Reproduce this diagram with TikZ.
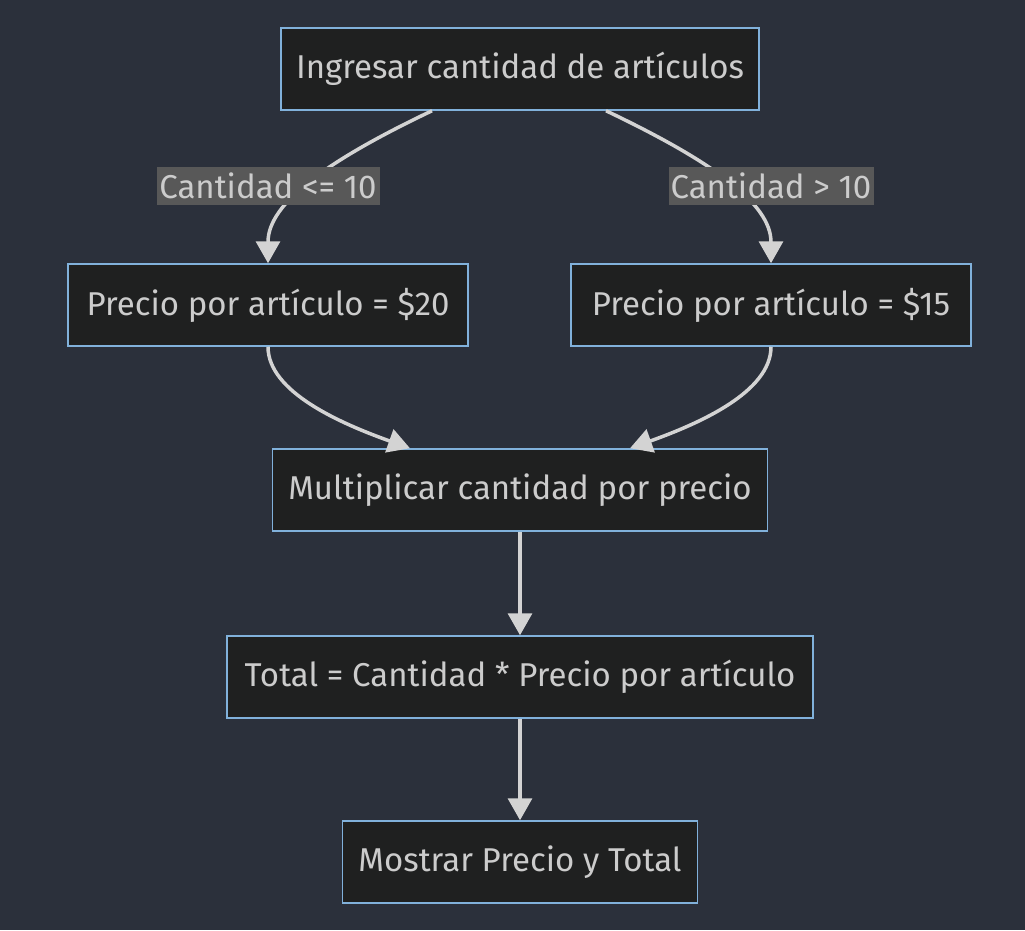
\documentclass[tikz,border=0pt]{standalone}
\usepackage{fontspec}
\setmainfont{Fira Sans}
\usetikzlibrary{arrows.meta}
\definecolor{mmbg}{HTML}{2B303B}
\definecolor{mmbox}{HTML}{1F2020}
\definecolor{mmline}{HTML}{81B1DB}
\definecolor{mmtext}{HTML}{CCCCCC}
\definecolor{mmedge}{HTML}{D3D3D3}
\definecolor{mmlabel}{HTML}{585858}

\begin{document}
\begin{tikzpicture}[x=1pt, y=-1pt,
  paso/.style  ={rectangle, draw=mmline, fill=mmbox, line width=1.5pt, minimum height=82pt, inner sep=0pt, text=mmtext, font=\fontsize{33}{40}\selectfont},
  cond/.style  ={rectangle, fill=mmlabel, inner sep=0pt, minimum height=38pt, text=mmtext, font=\fontsize{33}{40}\selectfont},
  flecha/.style={draw=mmedge, line width=3.5pt, -{Triangle[length=22pt,width=24pt]}},
]
% canvas: 1025 x 930, y grows downwards
\fill[mmbg] (0,0) rectangle (1025,930);
\useasboundingbox (0,0) rectangle (1025,930);
% steps
\node[paso, minimum width=478pt] (ingreso)  at (520,69)  {Ingresar cantidad de artículos};
\node[paso, minimum width=400pt] (precioA)  at (268,305) {Precio por artículo = \$20};
\node[paso, minimum width=400pt] (precioB)  at (771,305) {Precio por artículo = \$15};
\node[paso, minimum width=495pt] (mult)     at (520,490) {Multiplicar cantidad por precio};
\node[paso, minimum width=586pt] (total)    at (520,677) {Total = Cantidad * Precio por artículo};
\node[paso, minimum width=355pt] (mostrar)  at (520,862) {Mostrar Precio y Total};
% branches
\draw[flecha] ([xshift=-88pt]ingreso.south) .. controls +(-105,50) and +(0,-60) .. (precioA.north);
\draw[flecha] ([xshift=86pt]ingreso.south) .. controls +(105,50) and +(0,-60) .. (precioB.north);
\node[cond, minimum width=223pt] (menos) at (268,186) {Cantidad <= 10};
\node[cond, minimum width=205pt] (mas)   at (771,186) {Cantidad > 10};
% merge
\draw[flecha] (precioA.south) .. controls +(0,45) and +(-70,-25) .. ([xshift=-110pt]mult.north);
\draw[flecha] (precioB.south) .. controls +(0,45) and +(70,-25) .. ([xshift=110pt]mult.north);
\draw[flecha] (mult) -- (total);
\draw[flecha] (total) -- (mostrar);
\end{tikzpicture}
\end{document}
